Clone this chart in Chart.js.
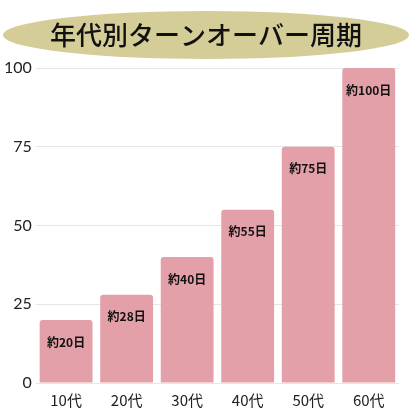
<!DOCTYPE html>
<html><head><meta charset="utf-8">
<script src="https://cdn.jsdelivr.net/npm/chart.js@4"></script>
<style>html,body{margin:0;padding:0;background:#fff}#w{width:413px;height:413px}</style>
</head><body><div id="w"><canvas id="c" width="413" height="413"></canvas></div>
<script>
const title = "年代別ターンオーバー周期";
const categories = ["10代","20代","30代","40代","50代","60代"];
const values = [20,28,40,55,75,100];
const barLabels = ["約20日","約28日","約40日","約55日","約75日","約100日"];
const yTicks = [0,25,50,75,100];

const bg = {
  id:'bg',
  beforeDraw(ch){
    const c=ch.ctx;c.save();
    c.fillStyle='#d5cd98';
    c.beginPath();c.ellipse(206,35,203,24,0,0,Math.PI*2);c.fill();
    c.fillStyle='#111';c.font='500 26px "Noto Sans CJK JP"';
    c.textAlign='center';c.textBaseline='middle';
    c.fillText(title,206,35);
    c.restore();
  },
  afterDatasetsDraw(ch){
    const c=ch.ctx;c.save();
    c.fillStyle='#111';c.font='bold 12px "Noto Sans CJK JP"';
    c.textAlign='center';c.textBaseline='middle';
    ch.getDatasetMeta(0).data.forEach((b,i)=>{c.fillText(barLabels[i],b.x,b.y+22);});
    c.restore();
  }
};
new Chart(document.getElementById('c'),{
  type:'bar',
  data:{labels:categories,datasets:[{data:values,backgroundColor:'#e4a0a8',borderRadius:3,borderSkipped:'bottom',categoryPercentage:0.9,barPercentage:0.97}]},
  options:{responsive:false,animation:false,
    layout:{padding:{top:68,right:14,left:0,bottom:4}},
    plugins:{legend:{display:false},tooltip:{enabled:false}},
    scales:{
      y:{min:0,max:100,afterBuildTicks(ax){ax.ticks=yTicks.map(v=>({value:v}));},
        grid:{color:'#e6e6e6',drawTicks:false},border:{display:false},
        ticks:{color:'#222',font:{size:16,family:'Lato'},padding:4}},
      x:{grid:{display:false},border:{display:false},
        ticks:{color:'#222',font:{size:15,family:'"Noto Sans CJK JP"'},padding:0}}
    }},
  plugins:[bg]
});
</script></body></html>
